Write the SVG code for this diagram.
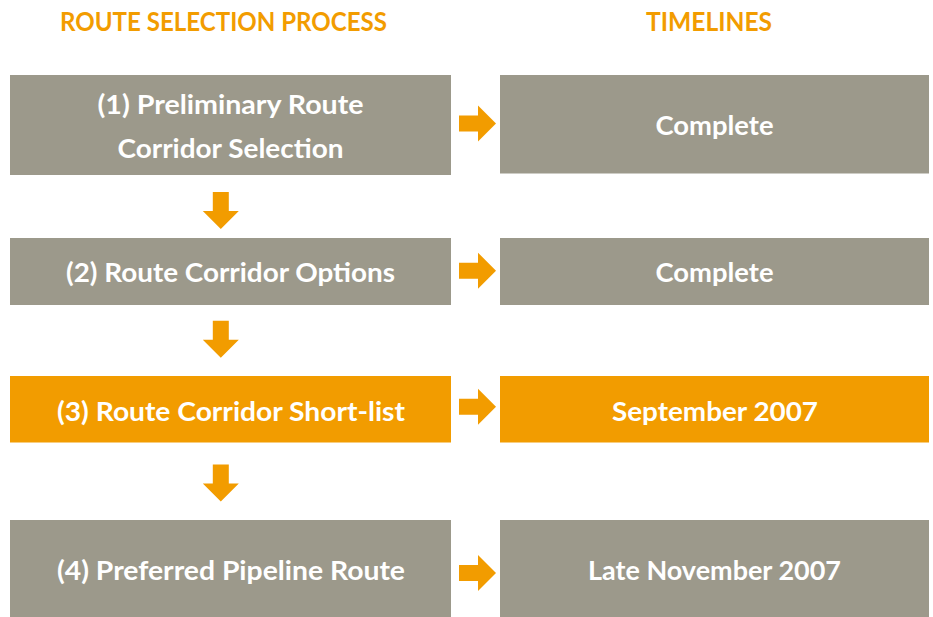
<svg xmlns="http://www.w3.org/2000/svg" xmlns:xlink="http://www.w3.org/1999/xlink" width="933" height="617" viewBox="0 0 933 617">
  <style>
    .box { fill: #9c998b; }
    .box.hot { fill: #f29c00; }
    .label { font-family: Lato, "Open Sans", "Liberation Sans", sans-serif; font-weight: 700; font-size: 27px; fill: #ffffff; text-anchor: middle; }
    .title { font-family: Lato, "Open Sans", "Liberation Sans", sans-serif; font-weight: 700; font-size: 27px; fill: #f29c00; text-anchor: middle; }
    .arrow { fill: #f29c00; }
  </style>
  <defs>
    <path id="arrow-right" d="M0,-8 H19 V-18 L37,0 L19,18 V8 H0 Z"/>
    <path id="arrow-down" d="M-8,0 V19 H-18 L0,37 L18,19 H8 V0 Z"/>
  </defs>
  <rect width="933" height="617" fill="#ffffff"/>

  <!-- column headings -->
  <g id="headings">
    <text class="title" x="223.5" y="31" textLength="327" lengthAdjust="spacingAndGlyphs">ROUTE SELECTION PROCESS</text>
    <text class="title" x="709" y="31" textLength="126" lengthAdjust="spacingAndGlyphs">TIMELINES</text>
  </g>

  <!-- process steps -->
  <g id="step1">
    <rect class="box" x="10" y="75" width="441" height="100"/>
    <text class="label" x="230.5" y="113.5" textLength="266" lengthAdjust="spacingAndGlyphs">(1) Preliminary Route</text>
    <text class="label" x="230.5" y="157.5" textLength="226" lengthAdjust="spacingAndGlyphs">Corridor Selection</text>
  </g>
  <g id="step2">
    <rect class="box" x="10" y="238" width="441" height="67"/>
    <text class="label" x="230.5" y="282" textLength="329" lengthAdjust="spacingAndGlyphs">(2) Route Corridor Options</text>
  </g>
  <g id="step3">
    <rect class="box hot" x="10" y="376" width="441" height="66.5"/>
    <text class="label" x="231" y="420.5" textLength="348" lengthAdjust="spacingAndGlyphs">(3) Route Corridor Short-list</text>
  </g>
  <g id="step4">
    <rect class="box" x="10" y="520" width="441" height="97"/>
    <text class="label" x="231" y="580" textLength="348" lengthAdjust="spacingAndGlyphs">(4) Preferred Pipeline Route</text>
  </g>

  <!-- timelines -->
  <g id="time1">
    <rect class="box" x="500" y="75" width="429" height="98.5"/>
    <text class="label" x="714.5" y="134.5" textLength="118" lengthAdjust="spacingAndGlyphs">Complete</text>
  </g>
  <g id="time2">
    <rect class="box" x="500" y="238" width="429" height="67"/>
    <text class="label" x="714.5" y="282" textLength="118" lengthAdjust="spacingAndGlyphs">Complete</text>
  </g>
  <g id="time3">
    <rect class="box hot" x="500" y="376" width="429" height="66.5"/>
    <text class="label" x="715" y="420.5" textLength="206" lengthAdjust="spacingAndGlyphs">September 2007</text>
  </g>
  <g id="time4">
    <rect class="box" x="500" y="520" width="429" height="97"/>
    <text class="label" x="714.5" y="580" textLength="253" lengthAdjust="spacingAndGlyphs">Late November 2007</text>
  </g>

  <!-- connectors -->
  <g id="connectors" class="arrow">
    <use xlink:href="#arrow-right" x="459" y="123.5"/>
    <use xlink:href="#arrow-right" x="459" y="270.7"/>
    <use xlink:href="#arrow-right" x="459" y="406.8"/>
    <use xlink:href="#arrow-right" x="459" y="573"/>
    <use xlink:href="#arrow-down" x="220.8" y="192"/>
    <use xlink:href="#arrow-down" x="220.8" y="320.7"/>
    <use xlink:href="#arrow-down" x="220.8" y="464.5"/>
  </g>
</svg>
